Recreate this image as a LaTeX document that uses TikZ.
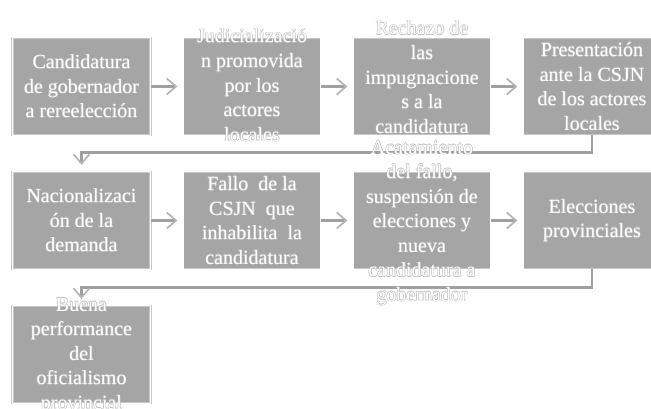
\documentclass[tikz,border=0pt]{standalone}
\usepackage{fontspec}
\setmainfont{Liberation Serif}
\usetikzlibrary{arrows.meta}
\definecolor{boxgray}{HTML}{A5A5A5}
\definecolor{linegray}{HTML}{A0A0A0}
\definecolor{tipgray}{HTML}{B4B4B4}
\definecolor{halogray}{HTML}{BDBDBD}
\newcommand{\haloText}[4]{%
  \node[proctext, text=halogray, yshift=#3, xshift=0.45pt] (#1h1) at (#2) {#4};
  \node[proctext, text=halogray, yshift=#3, xshift=-0.45pt] (#1h2) at (#2) {#4};
  \node[proctext, text=halogray, yshift=#3+0.45pt] (#1h3) at (#2) {#4};
  \node[proctext, text=halogray, yshift=#3-0.45pt] (#1h4) at (#2) {#4};
  \node[proctext, yshift=#3] (#1) at (#2) {#4};
}
\begin{document}
\begin{tikzpicture}[x=0.75pt,y=-0.75pt,
  procbox/.style={rectangle, fill=boxgray, draw=black!22, double=white, double distance=0.9pt, line width=0.4pt,
    minimum width=103.5pt, minimum height=73pt, inner sep=0pt},
  proctext/.style={text=white, align=center, inner sep=0pt,
    font=\fontsize{15}{18.4}\selectfont},
  flow/.style={draw=linegray, line width=1.6pt,
    -{Straight Barb[length=7pt, width=12pt, line width=1.3pt, color=tipgray]}},
]
\useasboundingbox[fill=white] (0,0) rectangle (651,408);
\begin{scope}
\clip (0,0) rectangle (651,408);
% boxes
\node[procbox] (b1) at (81.5,86.5) {};
\node[procbox] (b2) at (252,86.5) {};
\node[procbox] (b3) at (422,86.5) {};
\node[procbox] (b4) at (592,86.5) {};
\node[procbox] (b5) at (81.5,220.5) {};
\node[procbox] (b6) at (252,220.5) {};
\node[procbox] (b7) at (422,220.5) {};
\node[procbox] (b8) at (592,220.5) {};
\node[procbox] (b9) at (81.5,354.5) {};
% connectors
\draw[flow, shorten >=4pt] (b1.east) -- (b2.west);
\draw[flow, shorten >=4pt] (b2.east) -- (b3.west);
\draw[flow, shorten >=4pt] (b3.east) -- (b4.west);
\draw[flow, shorten >=4pt] (b5.east) -- (b6.west);
\draw[flow, shorten >=4pt] (b6.east) -- (b7.west);
\draw[flow, shorten >=4pt] (b7.east) -- (b8.west);
\coordinate (c1) at ([yshift=-12.8pt]b4.south);
\coordinate (c2) at ([yshift=-13.5pt]b8.south);
\draw[flow, shorten >=5pt] (b4.south) -- (c1) -| (b5.north);
\draw[flow, shorten >=5pt] (b8.south) -- (c2) -| (b9.north);
% texts
\haloText{t1}{b1}{0pt}{Candidatura\\de gobernador\\a rereelección}
\haloText{t2}{b2}{1pt}{Judicializació\\n promovida\\por los\\actores\\locales}
\haloText{t3}{b3}{7pt}{Rechazo de\\las\\impugnacione\\s a la\\candidatura}
\haloText{t4}{b4}{0pt}{Presentación\\ante la CSJN\\de los actores\\locales}
\haloText{t5}{b5}{0pt}{Nacionalizaci\\ón de la\\demanda}
\haloText{t6}{b6}{0pt}{Fallo~ de la\\CSJN~ que\\inhabilita~ la\\candidatura}
\haloText{t7}{b7}{-2pt}{Acatamiento\\del fallo,\\suspensión de\\elecciones y\\nueva\\candidatura a\\gobernador}
\haloText{t8}{b8}{0pt}{Elecciones\\provinciales}
\haloText{t9}{b9}{-1pt}{Buena\\performance\\del\\oficialismo\\provincial}
\end{scope}
\end{tikzpicture}
\end{document}
